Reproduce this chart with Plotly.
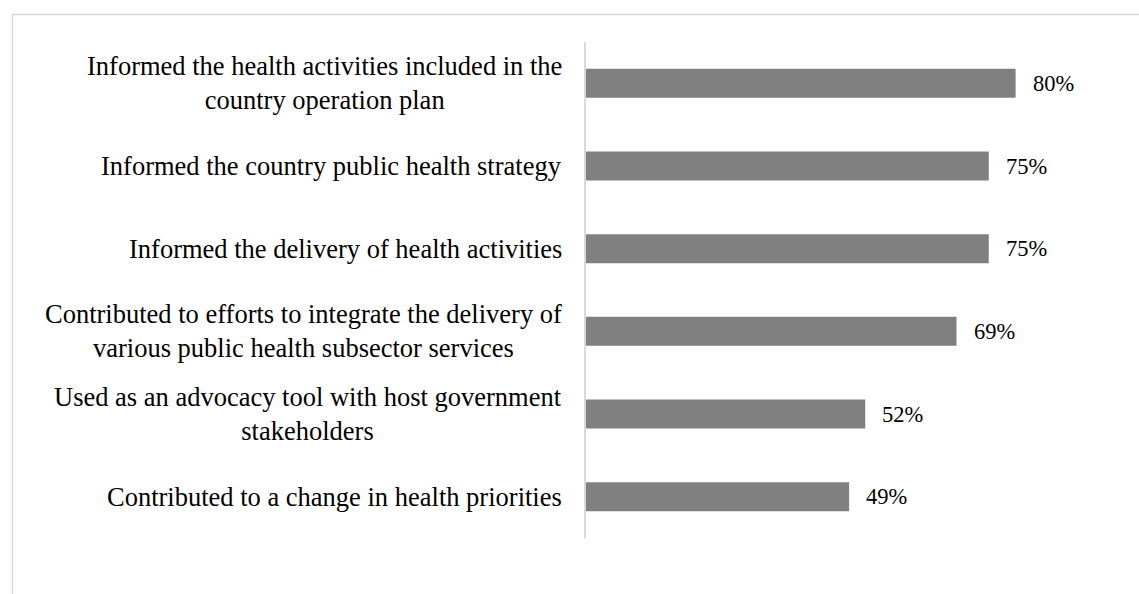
import plotly.graph_objects as go

# Survey items (top to bottom) and the share of respondents selecting each
categories = [
    "Informed the health activities included in the<br>country operation plan",
    "Informed the country public health strategy",
    "Informed the delivery of health activities",
    "Contributed to efforts to integrate the delivery of<br>various public health subsector services",
    "Used as an advocacy tool with host government<br>stakeholders",
    "Contributed to a change in health priorities",
]
values = [80, 75, 75, 69, 52, 49]

FONT = "Liberation Serif, Times New Roman, serif"
W, H = 1139, 594
L, R, T, B = 586, 16, 42, 56

fig = go.Figure(
    go.Bar(
        x=values,
        y=categories,
        orientation="h",
        marker=dict(color="#808080", line=dict(width=0)),
        hoverinfo="skip",
    )
)

for cat, v in zip(categories, values):
    # Category label, lines centred within the block, right edge near the axis
    fig.add_annotation(
        x=0, y=cat, text=cat, showarrow=False,
        xanchor="right", xshift=-22, align="center",
        font=dict(family=FONT, size=26.5, color="#000000"),
    )
    # Value label just past the end of the bar
    fig.add_annotation(
        x=v, y=cat, text=f"{v}%", showarrow=False,
        xanchor="left", xshift=15,
        font=dict(family=FONT, size=22.5, color="#000000"),
    )

pw = W - L - R
ph = H - T - B
# Light outer frame around the whole chart
fig.add_shape(
    type="rect", xref="paper", yref="paper",
    x0=(12.5 - L) / pw, x1=(W + 20 - L) / pw,
    y0=(H - B - (H + 20)) / ph, y1=(H - B - 14.5) / ph,
    line=dict(color="#d9d9d9", width=1.5), layer="below",
)

fig.update_layout(
    width=W, height=H,
    margin=dict(l=L, r=R, t=T, b=B, pad=0),
    paper_bgcolor="white", plot_bgcolor="white",
    bargap=0.65,
    showlegend=False,
    font=dict(family=FONT, size=26.5, color="#000000"),
    xaxis=dict(range=[0, 100], visible=False, fixedrange=True),
    yaxis=dict(
        autorange="reversed",
        showline=True, linecolor="#d9d9d9", linewidth=1.5,
        showgrid=False, zeroline=False, ticks="",
        showticklabels=False,
        fixedrange=True,
    ),
)

fig.write_html("out.html")
